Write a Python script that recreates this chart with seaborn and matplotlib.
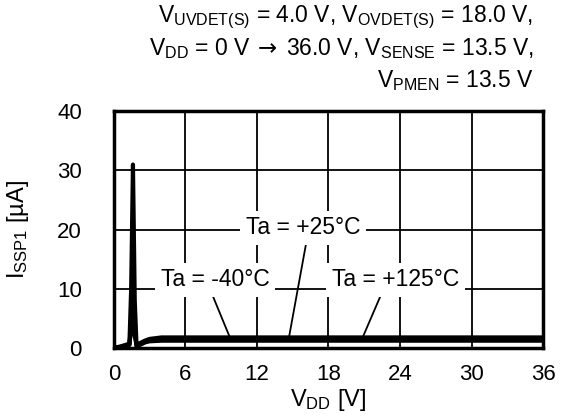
import pandas as pd
import matplotlib
matplotlib.use("Agg")
import matplotlib.pyplot as plt
import seaborn as sns

# Data
vdd = [0, 0.5, 1.0, 1.3, 1.45, 1.6, 1.75, 1.9, 2.2, 2.6, 3.0, 4, 6, 12, 18, 24, 30, 36]
i_m40 = [0, 0.1, 0.3, 0.5, 4.0, 12.0, 3.0, 0.3, 0.5, 0.9, 1.1, 1.2, 1.2, 1.2, 1.2, 1.2, 1.2, 1.2]
i_p25 = [0, 0.1, 0.3, 0.5, 10.0, 31.0, 8.0, 0.4, 0.6, 1.0, 1.3, 1.5, 1.5, 1.5, 1.5, 1.5, 1.5, 1.5]
i_p125 = [0, 0.2, 0.5, 0.7, 3.0, 8.0, 2.0, 0.5, 0.8, 1.2, 1.5, 1.75, 1.75, 1.75, 1.75, 1.75, 1.75, 1.75]
temps = ["Ta = -40°C", "Ta = +25°C", "Ta = +125°C"]

df = pd.concat([
    pd.DataFrame({"vdd": vdd, "issp1": ys, "Ta": t})
    for t, ys in zip(temps, [i_m40, i_p25, i_p125])
])

sns.set_style("white")
plt.rcParams["font.family"] = ["Liberation Sans", "DejaVu Sans"]
plt.rcParams["mathtext.fontset"] = "custom"
plt.rcParams["mathtext.rm"] = "Liberation Sans"
plt.rcParams["mathtext.it"] = "Liberation Sans:italic"
plt.rcParams["mathtext.sf"] = "DejaVu Sans"
for key in ["text.color", "axes.labelcolor", "xtick.color", "ytick.color"]:
    plt.rcParams[key] = "black"

fig = plt.figure(figsize=(5.61, 4.17), dpi=100)
ax = fig.add_axes([0.203, 0.166, 0.765, 0.567])

sns.lineplot(data=df, x="vdd", y="issp1", hue="Ta", palette=["black"] * 3,
             linewidth=3, legend=False, ax=ax, zorder=3)

ax.set_xlim(0, 36)
ax.set_ylim(0, 40)
ax.set_xticks(range(0, 37, 6))
ax.set_yticks(range(0, 41, 10))
ax.grid(True, color="black", linewidth=1.3)
ax.tick_params(length=0, labelsize=16)
ax.tick_params(axis="x", pad=12)
ax.tick_params(axis="y", pad=23)
for s in ax.spines.values():
    s.set_color("black")
    s.set_linewidth(2.5)
    s.set_zorder(4)

ax.set_xlabel(r"$\mathrm{V_{DD}}$ [V]", fontsize=17, labelpad=1)
ax.set_ylabel(r"$\mathrm{I_{SSP1}}$ [µA]", fontsize=17, labelpad=19)

# Labels with leader lines
box = dict(boxstyle="square,pad=0.25", fc="white", ec="none")
labels = [("Ta = -40°C", (9.7, 1.9), (8.5, 11.5), 0.46),
          ("Ta = +25°C", (14.7, 1.9), (15.9, 20.3), 0.53),
          ("Ta = +125°C", (20.9, 1.9), (23.6, 11.5), 0.4)]
for txt, xy, xyt, rx in labels:
    ax.annotate(txt, xy=xy, xytext=xyt, ha="center", va="center", fontsize=16.5,
                bbox=box, zorder=5,
                arrowprops=dict(arrowstyle="-", color="black", lw=1.3,
                                relpos=(rx, 0), shrinkA=0, shrinkB=0))

cond = [r"$\mathrm{V_{UVDET(S)}}$ = 4.0 V, $\mathrm{V_{OVDET(S)}}$ = 18.0 V,",
        r"$\mathrm{V_{DD}}$ = 0 V$\;\mathsf{\rightarrow}\;$36.0 V, $\mathrm{V_{SENSE}}$ = 13.5 V,",
        r"$\mathrm{V_{PMEN}}$ = 13.5 V"]
for k, line in enumerate(cond):
    fig.text(0.951, 0.958 - k * 0.075, line, ha="right", va="center", fontsize=16.5)

fig.savefig("out.png", dpi=100)
